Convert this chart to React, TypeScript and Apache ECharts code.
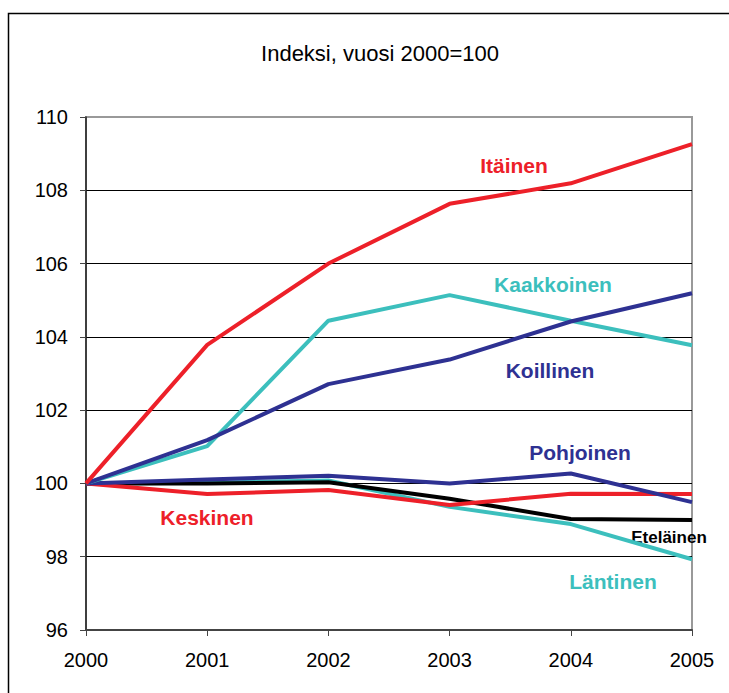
import React, { useEffect, useRef } from "react";
import * as echarts from "echarts";

const years = ["2000", "2001", "2002", "2003", "2004", "2005"];
const itainen = [100, 103.78, 106.0, 107.63, 108.19, 109.26];
const kaakkoinen = [100, 101.02, 104.44, 105.14, 104.44, 103.77];
const koillinen = [100, 101.18, 102.71, 103.38, 104.42, 105.19];
const pohjoinen = [100, 100.11, 100.21, 100.0, 100.27, 99.49];
const keskinen = [100, 99.71, 99.82, 99.41, 99.72, 99.71];
const etelainen = [100, 100.0, 100.03, 99.58, 99.03, 99.0];
const lantinen = [100, 100.02, 100.08, 99.36, 98.89, 97.93];
const yTicks = { min: 96, max: 110, interval: 2 };

const RED = "#ed2029";
const TEAL = "#3cbfbd";
const NAVY = "#2e3192";
const BLACK = "#000000";

export default function App() {
  const ref = useRef<HTMLDivElement>(null);
  useEffect(() => {
    if (!ref.current) return;
    const chart = echarts.init(ref.current, null, { renderer: "svg" });
    const font = "'Liberation Sans', Arial, sans-serif";
    const mk = (name: string, data: number[], color: string) => ({
      name,
      type: "line",
      data,
      symbol: "none",
      lineStyle: { color, width: 4 },
      itemStyle: { color },
    });
    const label = (text: string, x: number, y: number, color: string, size = 21) => ({
      type: "text",
      x,
      y,
      style: {
        text,
        fill: color,
        font: `bold ${size}px ${font}`,
        align: "center",
        verticalAlign: "middle",
      },
    });
    const splitColors = ["#000", "#000", "#000", "#000", "#000", "#000", "#000", "#999"];
    chart.setOption({
      animation: false,
      backgroundColor: "#fff",
      grid: {
        left: 86,
        right: 37,
        top: 117,
        bottom: 63,
        show: true,
        borderColor: "#999",
        borderWidth: 2,
        backgroundColor: "transparent",
      },
      xAxis: {
        type: "category",
        data: years,
        boundaryGap: false,
        axisLine: { show: true, lineStyle: { color: "#444", width: 2 } },
        axisTick: { show: true, inside: false, length: 6, lineStyle: { color: "#444", width: 1 } },
        axisLabel: { color: "#000", fontSize: 20, fontFamily: font, margin: 20 },
        splitLine: { show: false },
      },
      yAxis: {
        type: "value",
        min: yTicks.min,
        max: yTicks.max,
        interval: yTicks.interval,
        axisLine: { show: true, lineStyle: { color: "#222", width: 1.5 } },
        axisTick: { show: true, inside: false, length: 6, lineStyle: { color: "#444", width: 1 } },
        axisLabel: { color: "#000", fontSize: 20, fontFamily: font, margin: 18 },
        splitLine: { show: true, lineStyle: { color: splitColors, width: 1 } },
      },
      series: [
        mk("Läntinen", lantinen, TEAL),
        mk("Eteläinen", etelainen, BLACK),
        mk("Keskinen", keskinen, RED),
        mk("Pohjoinen", pohjoinen, NAVY),
        mk("Kaakkoinen", kaakkoinen, TEAL),
        mk("Koillinen", koillinen, NAVY),
        mk("Itäinen", itainen, RED),
      ],
      graphic: [
        {
          type: "rect",
          shape: { x: 8.5, y: 13.5, width: 740, height: 700 },
          style: { fill: "none", stroke: "#000", lineWidth: 1.5 },
          silent: true,
        },
        {
          type: "text",
          x: 380,
          y: 53,
          style: {
            text: "Indeksi, vuosi 2000=100",
            fill: "#000",
            font: `22px ${font}`,
            align: "center",
            verticalAlign: "middle",
          },
        },
        label("Itäinen", 514, 165, RED),
        label("Kaakkoinen", 553, 284, TEAL),
        label("Koillinen", 550, 370, NAVY),
        label("Pohjoinen", 580, 452, NAVY),
        label("Keskinen", 207, 517, RED),
        label("Eteläinen", 669, 537, BLACK, 17),
        label("Läntinen", 613, 581, TEAL),
      ],
    });
    return () => chart.dispose();
  }, []);
  return (
    <div
      ref={ref}
      style={{ position: "absolute", left: 0, top: 0, width: 729, height: 693 }}
    />
  );
}
